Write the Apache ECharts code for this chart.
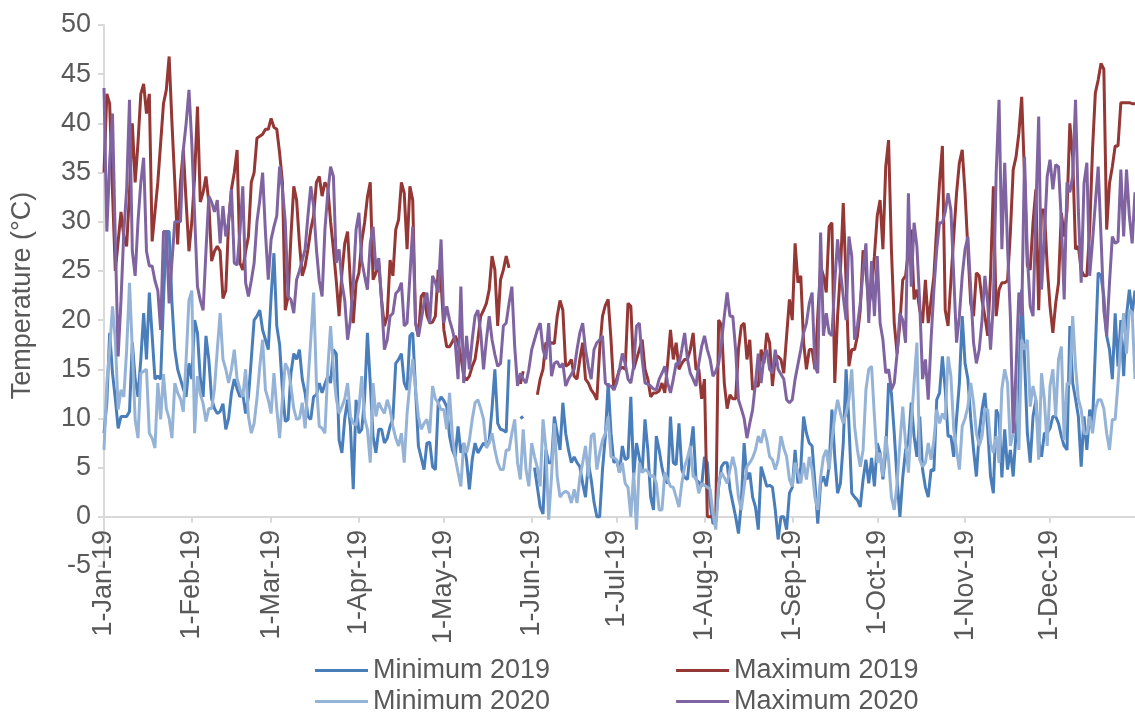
<!DOCTYPE html>
<html>
<head>
<meta charset="utf-8">
<script src="https://cdn.jsdelivr.net/npm/echarts@6/dist/echarts.min.js"></script>
<style>
  html, body { margin: 0; padding: 0; background: #fff; }
  #chart { width: 1135px; height: 713px; }
</style>
</head>
<body>
<div id="chart"></div>
<script>
// day labels: 1-Jan-19 ... 31-Dec-19
const months = ['Jan', 'Feb', 'Mar', 'Apr', 'May', 'Jun', 'Jul', 'Aug', 'Sep', 'Oct', 'Nov', 'Dec'];
const monthDays = [31, 28, 31, 30, 31, 30, 31, 31, 30, 31, 30, 31];
const days = [];
months.forEach((m, i) => {
  for (let d = 1; d <= monthDays[i]; d++) days.push(d + '-' + m + '-19');
});

// daily values, one row per month
const min2019 = [
  8.5, 11.6, 18.7, 14.6, 12, 9, 10.2, 10.2, 10.2, 10.7, 17.7, 14, 12.2, 16, 20.7, 16, 22.8, 18.4, 14, 14.3, 14, 22, 29, 29, 21.7, 17, 15, 14, 13, 12.2, 15.6,
  14, 20, 18.7, 14, 12.2, 18.4, 16, 12, 11, 10.5, 10.7, 11.5, 8.9, 10, 12.6, 14, 13, 12.2, 12.5, 10.5, 12.2, 16, 20, 20.4, 21, 19, 18, 17,
  22.4, 26.8, 19.4, 17.5, 12.9, 9.7, 9.9, 14.6, 16.6, 16, 17, 14, 12.6, 10.2, 9.9, 12.2, 12.4, 13.6, 12.6, 13.5, 14.3, 13.6, 17, 16.6, 7.8, 6.5, 10, 11.9, 9.2, 2.8, 11.9,
  8.5, 8.9, 12, 18.7, 13.6, 8.2, 6.5, 8.9, 8.9, 7.5, 8, 9.2, 10, 15.6, 16, 16.6, 13.6, 12.9, 18.4, 18.7, 12.9, 7.2, 6, 4.8, 7.5, 7.6, 5.1, 4.8, 11.6, 12.2,
  11.8, 11.2, 8.2, 6.8, 6.1, 9.2, 6.5, 7.5, 5.8, 2.8, 5.8, 7.5, 6.5, 7, 7.5, 7.2, 7.8, 11, 15, 9.5, 8.9, 8.8, 8.6, 16, null, null, null, 10, 10.2, null, null,
  null, 5, 3, 1, 0.3, 6.8, 5.5, 5.5, 10.2, 8.5, 6.8, 11.6, 8.5, 6.8, 5.5, 6.1, 5.5, 5.1, 3.4, 2, 5.5, 3.8, 1.5, 0, 0, 4.8, 8.2, 13.6, 8.5, 5.5,
  5.8, 4.5, 7.2, 5.8, 6, 12.2, 4.1, 7.5, 6, 4.5, 9.9, 6.8, 2, 0.7, 8.2, 6.8, 5, 3.8, 3.4, 10.2, 5.5, 5.3, 9.5, 4.8, 4, 3.8, 6.8, 9.2, 3.8, 3.5, 3.1,
  6.1, 5.5, 1.4, -0.7, -0.5, 3, 5.1, 5.5, 5.5, 2.8, 1.4, 0, -1.7, 1.4, 7.5, 3.8, 4.5, 2, 1, -1.3, 5.1, 4.1, 3.1, 3.2, 3, 0.7, -2.3, 0, 0, -1.3, 2.4,
  3, 6.8, 3.4, 5, 10.2, 8.5, 7.5, 7.2, 3.4, -0.7, 3.4, 4.1, 3.1, 5.1, 10.9, 6.1, 2.4, 3.4, 7.5, 15, 9.5, 2.4, 2, 1.7, 1, 3.8, 5.8, 3.4, 6, 3.1,
  7.5, 6.5, 3.8, 6.5, 13.6, 12.6, 8.5, 3.8, 0, 4, 6.8, 7.5, 11.6, 8.2, 6.1, 10.2, 4.8, 3, 2, 4.8, 4.7, 11.9, 12.6, 16.3, 12.9, 8.2, 8.2, 6.1, 10, 13.6, 20.4,
  15.6, 14, 10, 6.8, 4.1, 8.5, 10.9, 12.6, 8.9, 4.1, 2.4, 10.9, 10.2, 4, 8.9, 4.8, 6.8, 4.1, 8.5, 13.6, 23.1, 16, 8.5, 5.5, 10.2, 11.9, 7.8, 6.1, 8.5, 8.5,
  9, 10.2, 10.2, 9.5, 8.2, 7.2, 6.8, 19.4, 13.6, 12, 10.2, 5.1, 10.2, 6.8, 10.9, 9.5, 17, 24.8, 24.5, 22.4, 18.4, 17, 14, 20.7, 15.3, 20, 14.3, 20.4, 23.1, 20.7, 23
];
const max2019 = [
  35, 43, 42, 33, 25, 28, 31, 28.5, 27.5, 33, 40, 34, 38, 43, 44, 41, 43, 28, 31, 34, 38, 42, 43.4, 46.8, 40, 34, 27.7, 34, 37.3, 32, 27,
  30, 34.6, 41.7, 32, 33, 34.6, 32, 26, 27, 27.5, 27, 22.2, 23, 30, 33.3, 35, 37.3, 25.8, 25.1, 27, 28.5, 34, 35, 38.5, 38.7, 38.9, 39.4, 39.4,
  40.5, 39.6, 39.4, 37, 34, 21, 22.4, 28.5, 33.6, 32.2, 27.8, 24.5, 25.5, 27.2, 29.2, 30.6, 34, 34.6, 32.6, 34, 33.5, 30, 27.2, 24, 20.4, 24.8, 27.8, 29, 23.8, 19.7, 23.8,
  24.8, 28, 29.9, 32.5, 34, 24.1, 24.8, 25.8, 22, 19.4, 20.4, 26.1, 24.5, 29.2, 30.2, 34, 32.9, 27.2, 33.6, 32.2, 19.7, 18.3, 22.4, 22.8, 20.5, 19.7, 19.8, 20.4, 25.1, 23.8,
  19, 17.3, 17.3, 17.8, 18.4, 17.7, 16.3, 14.3, 13.9, 14.3, 15.3, 16, 18, 20.4, 21, 21.7, 23.1, 26.5, 25.1, 19.4, 24.1, 25.1, 26.5, 25.3, null, null, null, 13.5, 14.8, null, null,
  null, null, 12.4, 14, 15, 17.7, 17.5, 17.7, 17.6, 20.4, 22, 21, 15.3, 15.5, 16, 14.3, 14, 16, 17.7, 14, 13.6, 12.9, 12.5, 11.9, 17, 20.4, 21.5, 22.1, 18, 12.9,
  14, 15, 15.2, 15, 21.7, 21.4, 15, 16, 17, 18, 15, 14, 12.2, 12.6, 12.6, 12.8, 13.6, 12.6, 15.6, 19, 16, 17.7, 15, 15.6, 16, 16, 17, 18.7, 15, 15, 12,
  14, 0, 0, 0, 0, 20, 19.5, 13.6, 11, 12.4, 12, 12, 17, 19.4, 19.7, 16, 18, 12.9, 13.3, 13.3, 17, 15.6, 18.7, 17.7, 13.3, 16.3, 16.3, 16, 14.6, 18.4, 22.1,
  20, 27.8, 23.8, 24.5, 17.7, 15, 17, 17, 15, 20.4, 25.5, 24.5, 22.8, 29.5, 29.9, 13.6, 20.4, 25, 31.9, 23.8, 15.3, 17, 17, 18.4, 21, 27.1, 25.1, 21.4, 23, 26.5,
  30.6, 32.2, 27.2, 35.6, 38.3, 27.2, 19.7, 16.6, 19.7, 24.1, 24.5, 27, 29.2, 22.1, 23.1, 21, 19.7, 24.1, 19.7, 22, 24.5, 29.5, 34, 37.7, 21, 19.4, 24, 28.5, 32.9, 36, 37.3,
  32.9, 27.2, 21.7, 20.4, 24.8, 24.5, 22, 20.4, 18.4, 24.5, 33.6, 20.4, 23.1, 23.8, 23.8, 24, 28.9, 35.3, 36.6, 39, 42.7, 34.6, 25.5, 25.1, 29.9, 33.3, 21, 31.2, 31.2, 25.5,
  21.4, 18.7, 21.7, 23.8, 30.9, 28.5, 31.2, 40, 36.6, 27.2, 27.5, 25.1, 24.5, 24.5, 29.2, 37.3, 43.1, 44.4, 46.1, 45.5, 29.2, 33.9, 35.6, 37.7, 37.7, 42.1, 42.1, 42.1, 42.1, 42, 42
];
const min2020 = [
  6.8, 13.6, 17, 21.4, 18, 10.9, 12.9, 12.2, 17, 23.8, 17, 9.9, 8, 14.6, 14.8, 15, 8.5, 8, 7, 13.6, 9.9, 14.5, 11, 10, 8, 13.6, 12.6, 12, 10.7, 16, 22,
  23, 8.5, 14.3, 12.5, 11.5, 9.7, 11, 11, 13, 17, 20.7, 16, 15, 13.6, 15, 17, 14, 13, 12.2, 15, 10.2, 8.5, 9.5, 12, 15.3, 18, 12.9, 11.9,
  10.5, 14.6, 11, 8, 12, 15.6, 15, 13.3, 11, 9.9, 10, 11.6, 9, 13.6, 18, 22.8, 13.6, 9.2, 9, 8.5, 15, 19.4, 15, 12, 10.5, 11.2, 12, 13.6, 10.2, 9.5, 9.3,
  11, 14.3, 10, 8.9, 5.5, 13.6, 10.2, 11.6, 11, 10.5, 11.9, 10.9, 9.2, 8, 7.2, 8.5, 5.5, 10.5, 13.6, 16, 13, 10.2, 8.9, 9.5, 9.9, 8.5, 13.3, 12, 11.6, 10.9,
  10.9, 8.9, 12.6, 8.2, 6, 4.5, 3.1, 7.5, 6.5, 7.8, 9.9, 11.6, 11.9, 11, 9.9, 7, 7.5, 8.5, 6.8, 5.5, 4.8, 4.8, 6.8, 6.8, 8.5, 9.9, 5.5, 3.8, 8.9, 4.8, 3.1,
  7.5, 6.1, 5, 3.1, 9.9, 7, -0.3, 4.1, 9.5, 4.1, 2, 2.4, 2.6, 2.4, 1.4, 2.8, 1.4, 4, 5.5, 7.2, 4.1, 8.2, 8.5, 4.8, 6.5, 7.8, 8.5, 10.2, 6.1, 6,
  5.8, 4.5, 5.5, 3.4, 3, 0, 4.5, -1.3, 5.5, 4.5, 4.8, 4.6, 4.1, 4.2, 3.4, 0.7, 0.7, 4.5, 3.8, 3.1, 3, 2, 1, 3.4, 5.1, 6, 7.2, 4.1, 4, 2.4, 3.4,
  3.2, 3, 2.8, 0.3, -1.3, 3.4, 4.5, 4, 3.4, 4.8, 6.1, 4.8, 2, 0.7, 3, 5.1, 5.5, 6, 6.8, 8.2, 7.5, 8.9, 7.8, 6.1, 5.8, 4.8, 5.8, 8.2, 7, 6.1, 3.8,
  3.1, 5.5, 4.5, 3.4, 5.5, 3.8, 6.1, 4.8, 2, 0.7, 4, 6.1, 6.8, 4.8, 7.8, 10.2, 11.9, 10.5, 9.5, 10.5, 11.9, 15, 9.2, 6.8, 5.1, 6.8, 12.9, 15, 15.3, 10.2,
  5.5, 6.5, 4.1, 8.2, 5.8, 2, 0.7, 3.4, 7.5, 11.2, 7.5, 4.5, 9.5, 13.6, 17.7, 5.8, 5.1, 5.5, 7.5, 5.8, 7.8, 10.9, 9.5, 10.5, 9.9, 16.3, 14.3, 8.9, 6.8, 4.8, 9.2,
  10, 11.2, 13.6, 11.6, 8.5, 7.2, 8.2, 10.9, 10.9, 7.5, 6.5, 8.2, 5.5, 13, 15, 13.6, 7.2, 8.5, 13.6, 6.8, 18, 17, 18, 11.2, 13.3, 11.9, 5.8, 14.6, 11.9, 7.2,
  13.3, 15, 10.2, 16, 17.3, 7.8, 13.6, 13.5, 20.4, 15.3, 12, 10.9, 8.5, 8.4, 10.2, 8.5, 10.9, 11.9, 11.9, 11, 8.5, 6.8, 9.9, 9.9, 13.6, 17.7, 20.7, 16.6, 21, 20.8, 14
];
const max2020 = [
  43.6, 29, 36, 41, 28, 16.3, 22, 29, 33.3, 42.4, 27, 24.5, 30, 34, 36.5, 27, 25.5, 25.5, 24, 23, 19, 29, 29, 21.7, 26, 30, 30, 30, 37.3, 40, 43.4,
  38, 30.6, 23.4, 22, 21, 27, 32.6, 32, 31, 32.2, 27.8, 31.6, 28.5, 30, 33.3, 25.8, 25.6, 29, 33.6, 23.8, 22.4, 24, 25.8, 30, 32.2, 35, 28.9, 24.1,
  28.2, 29.5, 30.6, 35.6, 33.3, 30, 22.4, 22.1, 20.7, 24.1, 25, 26.1, 27.2, 30.6, 33.6, 31.6, 27.2, 24, 22.4, 29.2, 32.9, 35.6, 34.6, 25.8, 27.2, 23.8, 22, 18, 20, 23.8, 29.2,
  30.9, 26, 24.5, 23.1, 27.8, 29.5, 25.1, 26.3, 22, 17, 18, 20.4, 20.7, 22.7, 23, 23.8, 19.4, 19.7, 24.5, 29.5, 19.7, 18.3, 20, 21.7, 22.8, 19.7, 24.5, 23.8, 22.8, 28.2,
  19.7, 21.4, 20, 19, 17.7, 14, 23.4, 13.6, 18.4, 15, 18, 20.4, 21, 18.7, 15, 18, 20.4, 18, 16.5, 15.3, 15.6, 19.4, 19.7, 21.7, 23.4, 17.3, 13.3, 14.6, 14, 13.6, 15,
  17, 18, 19, 19.7, 17, 16, 19.7, 14.3, 15.6, 15.8, 15.2, 15.6, 13.3, 14, 14.5, 15, 17, 18.7, 19.7, 17, 15.3, 14, 17, 17.7, 18, 18.4, 13.6, 13.3, 13.3, 12.9,
  13.6, 15, 16.6, 15.6, 14, 13.6, 15.3, 19.4, 19.7, 16, 13.6, 13.5, 13.3, 13, 12.9, 14, 14.6, 15.3, 13.6, 12.6, 14, 15.6, 15.5, 17, 18.7, 16, 14.6, 14, 13.3, 15.6, 17.3,
  18.4, 17, 16, 14.3, 14.8, 15.6, 17.7, 20.4, 22.8, 20.4, 20.4, 17, 11.9, 11, 10, 8, 9.5, 10.9, 13.6, 16.6, 13.6, 16.3, 17, 15, 14.6, 17, 15, 14.5, 14, 11.9, 11.6,
  11.9, 14, 15.5, 17, 18.7, 19.7, 21.7, 22.8, 15.3, 14.6, 28.9, 18.4, 20.7, 18.7, 18.4, 23.8, 28.2, 25, 22.4, 20, 28.5, 26.5, 18, 19.4, 21.7, 25, 27.8, 19.7, 26, 20.4,
  26.5, 19.7, 18, 14.6, 15, 12.9, 13.6, 16.6, 20.7, 20, 17.7, 32.9, 23.4, 29.9, 27.5, 21.7, 14, 16, 11.9, 18, 23.1, 27.2, 29.9, 29.9, 31, 32.9, 31.2, 24.5, 17.7, 20.4, 24.5,
  27.2, 28.5, 23.1, 17.7, 15.6, 17, 20, 24.5, 21.7, 17, 21.7, 35, 42.4, 27.2, 36, 27.5, 20.4, 8.5, 15, 22.8, 20.4, 36.6, 26.5, 21.4, 20.4, 31.2, 40.7, 23.1, 28.5, 34.6,
  36.3, 33.3, 35.8, 35.6, 30, 22.1, 34, 33, 34.6, 42.4, 31.2, 23.8, 33.9, 36, 24.5, 28, 31.9, 35.6, 28.5, 21, 18.4, 23.8, 28.5, 27.8, 28, 35.3, 28.5, 35.3, 30.6, 27.8, 33
];

const seriesNames = ['Minimum 2019', 'Maximum 2019', 'Minimum 2020', 'Maximum 2020'];
const seriesData = [min2019, max2019, min2020, max2020];
const colors = ['#4a7ebb', '#953735', '#95b3d7', '#8064a2'];

const textColor = '#595959';
const font = '"Liberation Sans", Arial, sans-serif';
const isFirstOfMonth = (idx) => days[idx].indexOf('1-') === 0;

const legendRow = (names, top) => ({
  data: names,
  left: 310, top: top,
  icon: 'rect', itemWidth: 53, itemHeight: 3, itemGap: 126,
  textStyle: { color: textColor, fontSize: 27, fontFamily: font }
});

const chart = echarts.init(document.getElementById('chart'));
const option = {
  animation: false,
  color: colors,
  textStyle: { fontFamily: font },
  grid: { left: 104, top: 25, right: -4, bottom: 147 },
  legend: [
    legendRow([seriesNames[0], seriesNames[1]], 652),
    legendRow([seriesNames[2], seriesNames[3]], 683)
  ],
  xAxis: {
    type: 'category',
    data: days,
    boundaryGap: false,
    axisLine: { onZero: true, lineStyle: { color: '#d9d9d9', width: 2 } },
    axisTick: { interval: isFirstOfMonth, length: 6, lineStyle: { color: '#d9d9d9', width: 2 } },
    axisLabel: {
      interval: isFirstOfMonth,
      rotate: 90,
      margin: -36,
      color: textColor,
      fontSize: 27,
      fontFamily: font
    },
    splitLine: { show: false }
  },
  yAxis: {
    type: 'value',
    min: -5,
    max: 50,
    interval: 5,
    name: 'Temperature (°C)',
    nameLocation: 'middle',
    nameGap: 68,
    nameTextStyle: { color: textColor, fontSize: 27, fontFamily: font },
    axisLine: { show: true, lineStyle: { color: '#d9d9d9', width: 2 } },
    axisTick: { show: true, length: 6, lineStyle: { color: '#d9d9d9', width: 2 } },
    axisLabel: { color: textColor, fontSize: 27, margin: 13, fontFamily: font },
    splitLine: { show: false }
  },
  series: seriesNames.map((name, i) => ({
    name: name,
    type: 'line',
    data: seriesData[i],
    showSymbol: false,
    connectNulls: false,
    lineStyle: { width: 3, color: colors[i] },
    itemStyle: { color: colors[i] }
  }))
};
chart.setOption(option);
</script>
</body>
</html>
